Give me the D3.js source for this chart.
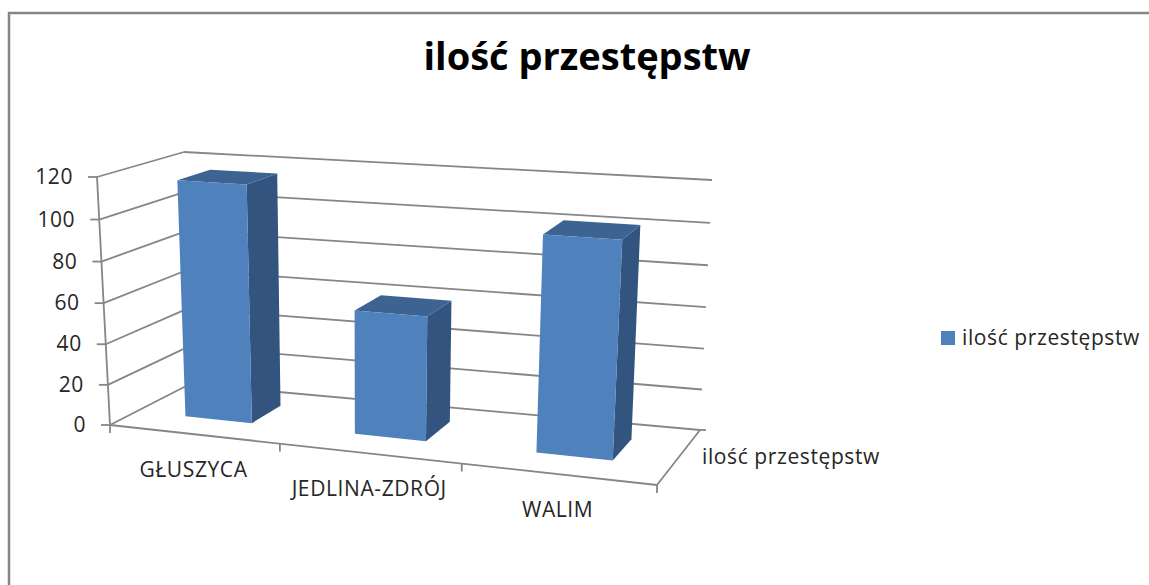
<!DOCTYPE html>
<html>
<head>
<meta charset="utf-8">
<script src="https://cdn.jsdelivr.net/npm/d3@7"></script>
<style>
    body { margin: 0; background: #fff; }
    text { font-family: "Open Sans", Lato, sans-serif; fill: #262626; font-size: 21px; letter-spacing: 0.6px; }
</style>
</head>
<body>
<div id="chart"></div>
<script>
const categories = ["GŁUSZYCA", "JEDLINA-ZDRÓJ", "WALIM"];
const seriesNames = ["ilość przestępstw"];
const seriesValues = [116, 60, 102];
const valueTicks = [0, 20, 40, 60, 80, 100, 120];
const chartTitle = "ilość przestępstw";

const width = 1149;
const height = 585;
const gridColor = "#868686";

const svg = d3.select("#chart")
    .append("svg")
    .attr("width", width)
    .attr("height", height);

// corners of the 3d box as they land on screen
const floorCorners = { fl: [110, 425], fr: [657, 485], bl: [190, 384], br: [700, 430] };
const topCorners = { fl: [97, 177], fr: [672, 215], bl: [184, 152], br: [712, 180] };

const valueScale = d3.scaleLinear().domain([0, 120]).range([0, 1]);

// band layout is Excel's 150% gap, on a flat 0..1 plane
const xBand = d3.scaleBand().domain(categories).range([0, 1]).paddingInner(0.6).paddingOuter(0.3);
const zBand = d3.scaleBand().domain(seriesNames).range([0, 1]).paddingInner(0.6).paddingOuter(0.3);

// perspective foreshortening along each direction
const warp = k => t => t / (t + k * (1 - t));
const warpX = warp(1.11);
const warpZ = warp(0.85);
const warpV = warp(1.035);

const mix = (a, b, t) => [a[0] + (b[0] - a[0]) * t, a[1] + (b[1] - a[1]) * t];

function plane(c, u, d) {
    return mix(mix(c.fl, c.fr, u), mix(c.bl, c.br, u), d);
}

// u, d are already warped, v is a data value
function project(u, d, v) {
    return mix(plane(floorCorners, u, d), plane(topCorners, u, d), warpV(valueScale(v)));
}

const line = d3.line();

function seg(g, a, b) {
    g.append("path")
        .attr("d", line([a, b]))
        .attr("fill", "none")
        .attr("stroke", gridColor)
        .attr("stroke-width", 1.8);
}

// outer frame of the chart area
svg.append("path")
    .attr("d", line([[9, height], [9, 13], [width, 13]]))
    .attr("fill", "none")
    .attr("stroke", gridColor)
    .attr("stroke-width", 2.5);

svg.append("text")
    .attr("x", 587)
    .attr("y", 70)
    .attr("text-anchor", "middle")
    .attr("font-weight", "bold")
    .style("font-size", "38px")
    .style("letter-spacing", "0")
    .style("fill", "#000")
    .text(chartTitle);

const axes = svg.append("g");

// gridlines run over the left wall and then the back wall
valueTicks.forEach(v => {
    seg(axes, project(0, 0, v), project(0, 1, v));
    seg(axes, project(0, 1, v), project(1, 1, v));

    const p = project(0, 0, v);
    seg(axes, [p[0] - 9, p[1]], p);
    svg.append("text")
        .attr("x", p[0] - 24)
        .attr("y", p[1] + 7)
        .attr("text-anchor", "end")
        .text(v);
});

// value axis, floor front edge and floor right edge
seg(axes, project(0, 0, 0), project(0, 0, 120));
seg(axes, project(0, 0, 0), project(1, 0, 0));
seg(axes, project(1, 0, 0), project(1, 1, 0));

// tick marks between categories
d3.range(categories.length + 1).forEach(i => {
    const p = project(warpX(i / categories.length), 0, 0);
    seg(axes, p, [p[0], p[1] + 8]);
});

const backRight = project(1, 1, 0);
seg(axes, backRight, [backRight[0] + 6, backRight[1]]);

const colors = { front: "#4f81bd", side: "#32547e", top: "#3c6391" };
const face = pts => line(pts) + "Z";

const bars = svg.append("g");
seriesNames.forEach(s => {
    categories.forEach((c, i) => {
        const v = seriesValues[i];
        const u0 = warpX(xBand(c));
        const u1 = warpX(xBand(c) + xBand.bandwidth());
        const d0 = warpZ(zBand(s));
        const d1 = warpZ(zBand(s) + zBand.bandwidth());

        const g = bars.append("g");
        g.append("path")
            .attr("d", face([project(u1, d0, 0), project(u1, d1, 0), project(u1, d1, v), project(u1, d0, v)]))
            .attr("fill", colors.side);
        g.append("path")
            .attr("d", face([project(u0, d0, v), project(u1, d0, v), project(u1, d1, v), project(u0, d1, v)]))
            .attr("fill", colors.top);
        g.append("path")
            .attr("d", face([project(u0, d0, 0), project(u1, d0, 0), project(u1, d0, v), project(u0, d0, v)]))
            .attr("fill", colors.front);
    });
});

// category labels sit under the middle of each band
categories.forEach(c => {
    const p = project(warpX((xBand(c) + xBand.bandwidth() / 2)), 0, 0);
    svg.append("text")
        .attr("x", p[0])
        .attr("y", p[1] + 43)
        .attr("text-anchor", "middle")
        .text(c);
});

// series label on the depth axis
svg.append("text")
    .attr("x", 702)
    .attr("y", 464)
    .text(seriesNames[0]);

// legend
svg.append("rect")
    .attr("x", 941)
    .attr("y", 331)
    .attr("width", 14)
    .attr("height", 14)
    .attr("fill", colors.front);

svg.append("text")
    .attr("x", 962)
    .attr("y", 345)
    .text(seriesNames[0]);
</script>
</body>
</html>
